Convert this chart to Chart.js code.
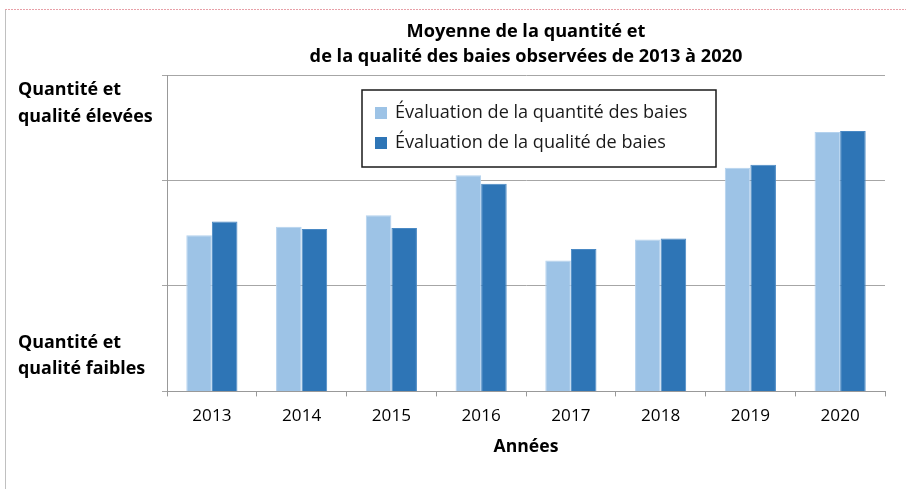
<!DOCTYPE html>
<html lang="fr">
<head>
<meta charset="utf-8">
<script src="https://cdn.jsdelivr.net/npm/chart.js@4"></script>
<style>
  html, body { margin: 0; padding: 0; background: #fff; }
  #wrap { width: 906px; height: 489px; position: relative; }
</style>
</head>
<body>
<div id="wrap"><canvas id="chart"></canvas></div>
<script>
const years = ["2013", "2014", "2015", "2016", "2017", "2018", "2019", "2020"];
const quantite = [1.48, 1.56, 1.67, 2.05, 1.24, 1.44, 2.12, 2.46];
const qualite = [1.61, 1.54, 1.55, 1.97, 1.35, 1.45, 2.15, 2.47];
const seriesNames = ["Évaluation de la quantité des baies", "Évaluation de la qualité de baies"];
const titleLines = ["Moyenne de la quantité et", "de la qualité des baies observées de 2013 à 2020"];
const highLabel = ["Quantité et", "qualité élevées"];
const lowLabel = ["Quantité et", "qualité faibles"];
const xTitle = "Années";

const FONT = "'Open Sans', 'Noto Sans', sans-serif";

// pick a font size so a string takes the same width as in the original
const measurer = document.createElement("canvas").getContext("2d");
function fitSize(text, weight, width) {
  measurer.font = weight + " 20px " + FONT;
  return Math.round(20 * width / measurer.measureText(text).width * 10) / 10;
}
const titleSize = fitSize(titleLines[1], "bold", 434);
const legendSize = fitSize(seriesNames[0], "normal", 292);
const sideSize = fitSize(highLabel[1], "bold", 135);
const axisTitleSize = fitSize(xTitle, "bold", 65);
const tickSize = fitSize(years[0], "normal", 39);

// frame, legend box and side labels drawn on the canvas
const extras = {
  id: "extras",
  beforeDraw(c) {
    const ctx = c.ctx;
    ctx.save();
    ctx.strokeStyle = "#e8a0a8";
    ctx.lineWidth = 1;
    ctx.setLineDash([2, 1]);
    ctx.beginPath();
    ctx.moveTo(5, 9.5);
    ctx.lineTo(906, 9.5);
    ctx.stroke();
    ctx.setLineDash([]);
    ctx.strokeStyle = "#c0c0c0";
    ctx.beginPath();
    ctx.moveTo(5.5, 10);
    ctx.lineTo(5.5, 489);
    ctx.stroke();
    ctx.restore();
  },
  afterDraw(c) {
    const ctx = c.ctx;
    const a = c.chartArea;
    ctx.save();
    // side labels
    ctx.fillStyle = "#000";
    ctx.font = "bold " + sideSize + "px " + FONT;
    ctx.textAlign = "left";
    ctx.textBaseline = "middle";
    highLabel.forEach((t, i) => ctx.fillText(t, 18, a.top + 15 + i * 27));
    lowLabel.forEach((t, i) => ctx.fillText(t, 18, a.bottom - 48 + i * 26));

    // legend
    const lx = a.left + 195, ly = a.top + 15, lw = 354, lh = 77;
    ctx.fillStyle = "#fff";
    ctx.fillRect(lx, ly, lw, lh);
    ctx.strokeStyle = "#1a1a1a";
    ctx.lineWidth = 1.5;
    ctx.strokeRect(lx, ly, lw, lh);
    ctx.font = legendSize + "px " + FONT;
    c.data.datasets.forEach((ds, i) => {
      const cy = ly + 23 + i * 30;
      ctx.fillStyle = ds.backgroundColor;
      ctx.fillRect(lx + 13, cy - 6, 12, 12);
      ctx.fillStyle = "#1a1a1a";
      ctx.fillText(ds.label, lx + 33, cy);
    });
    ctx.restore();
  }
};

new Chart(document.getElementById("chart"), {
  type: "bar",
  data: {
    labels: years,
    datasets: [
      {
        label: seriesNames[0],
        data: quantite,
        backgroundColor: "#9DC3E6",
        borderColor: "#b4d2ee",
        borderWidth: 1,
        categoryPercentage: 0.57,
        barPercentage: 1.0
      },
      {
        label: seriesNames[1],
        data: qualite,
        backgroundColor: "#2E75B6",
        borderColor: "#4a89c4",
        borderWidth: 1,
        categoryPercentage: 0.57,
        barPercentage: 1.0
      }
    ]
  },
  options: {
    responsive: true,
    maintainAspectRatio: false,
    animation: false,
    layout: { padding: { left: 162, right: 21, top: 0, bottom: 32 } },
    plugins: {
      legend: { display: false },
      tooltip: { enabled: false },
      title: {
        display: true,
        fullSize: false,
        text: titleLines,
        color: "#000",
        font: { family: FONT, size: titleSize, weight: "bold", lineHeight: "25px" },
        padding: { top: 19.5, bottom: 5.5 }
      }
    },
    scales: {
      x: {
        grid: { display: true, drawOnChartArea: false, drawTicks: true, tickLength: 5, color: "#999" },
        border: { display: true, color: "#999" },
        ticks: { color: "#000", padding: 10, font: { family: FONT, size: tickSize, lineHeight: "19.2px" } },
        title: {
          display: true,
          text: xTitle,
          color: "#000",
          font: { family: FONT, size: axisTitleSize, weight: "bold", lineHeight: "20.4px" },
          padding: { top: 1, bottom: 0 }
        }
      },
      y: {
        min: 0,
        max: 3,
        grid: { color: "#a6a6a6", drawTicks: true, tickLength: 5 },
        border: { display: true, color: "#999" },
        ticks: { display: false, stepSize: 1 }
      }
    }
  },
  plugins: [extras]
});
</script>
</body>
</html>
